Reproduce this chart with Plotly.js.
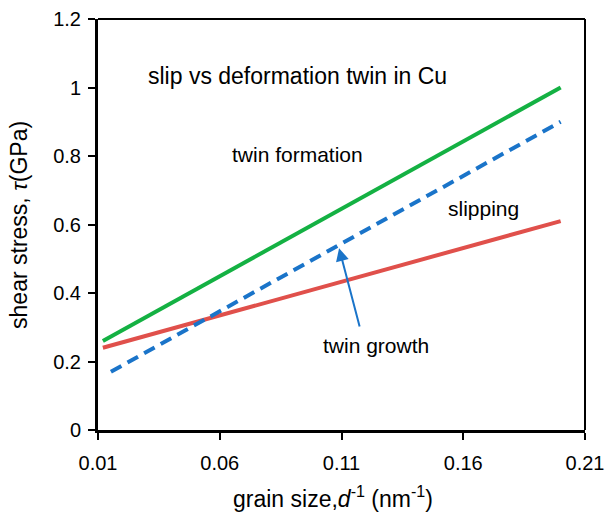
<!DOCTYPE html>
<html><head><meta charset="utf-8">
<script src="https://cdn.plot.ly/plotly-3.0.1.min.js"></script>
<style>html,body{margin:0;padding:0;background:#fff}#c{width:612px;height:515px}</style>
</head><body><div id="c"></div>
<script>
const twinFormationX = [0.012, 0.2];
const twinFormationY = [0.26, 1.0];
const slippingX = [0.012, 0.2];
const slippingY = [0.24, 0.61];
const twinGrowthX = [0.0153, 0.2];
const twinGrowthY = [0.17, 0.90];
const xTicks = [0.01, 0.06, 0.11, 0.16, 0.21];
const yTicks = [0, 0.2, 0.4, 0.6, 0.8, 1, 1.2];

const font = 'Liberation Sans, Arial, sans-serif';
const traces = [
  {x: twinFormationX, y: twinFormationY, mode: 'lines', line: {color: '#14b143', width: 4}},
  {x: slippingX, y: slippingY, mode: 'lines', line: {color: '#e0504b', width: 4}},
  {x: twinGrowthX, y: twinGrowthY, mode: 'lines', line: {color: '#1a74c9', width: 4, dash: '12px,7px'}}
];
const layout = {
  width: 612, height: 515,
  margin: {l: 98, r: 27, t: 19, b: 85},
  paper_bgcolor: '#fff', plot_bgcolor: '#fff',
  showlegend: false,
  font: {family: font, color: '#000', size: 20},
  xaxis: {
    range: [0.01, 0.21], tickvals: xTicks, ticktext: xTicks.map(String),
    showgrid: false, zeroline: false, showline: true, linewidth: 3, linecolor: '#000',
    ticks: 'outside', ticklen: 7, tickwidth: 2, tickcolor: '#000', ticklabelstandoff: 6,
    tickfont: {size: 20, family: font}
  },
  yaxis: {
    range: [0, 1.2], tickvals: yTicks, ticktext: yTicks.map(String),
    showgrid: false, zeroline: false, showline: true, linewidth: 3, linecolor: '#000',
    ticks: 'outside', ticklen: 7, tickwidth: 2, tickcolor: '#000', ticklabelstandoff: 3,
    tickfont: {size: 20, family: font}
  },
  shapes: [
    {type: 'line', xref: 'paper', yref: 'paper', x0: 0, x1: 1, y0: 1, y1: 1, line: {color: '#000', width: 2}},
    {type: 'line', xref: 'paper', yref: 'paper', x0: 1, x1: 1, y0: 0, y1: 1, line: {color: '#000', width: 2}}
  ],
  annotations: [
    {x: 0.4825, y: -0.2044, xref: 'paper', yref: 'paper', yanchor: 'bottom', text: 'grain size,<i>d</i><sup>-1</sup> (nm<sup>-1</sup>)', showarrow: false, font: {size: 23, family: font}},
    {x: -0.193, y: 0.499, xref: 'paper', yref: 'paper', xanchor: 'left', text: 'shear stress, <i>τ</i>(GPa)', textangle: -90, showarrow: false, font: {size: 23, family: font}},
    {x: 0.0918, y: 1.034, xref: 'x', yref: 'y', text: 'slip vs deformation twin in Cu', showarrow: false, font: {size: 23, family: font}},
    {x: 0.0921, y: 0.803, xref: 'x', yref: 'y', text: 'twin formation', showarrow: false, font: {size: 21, family: font}},
    {x: 0.1685, y: 0.648, xref: 'x', yref: 'y', text: 'slipping', showarrow: false, font: {size: 21, family: font}},
    {x: 0.1242, y: 0.248, xref: 'x', yref: 'y', text: 'twin growth', showarrow: false, font: {size: 21, family: font}},
    {x: 0.109, y: 0.531, xref: 'x', yref: 'y', ax: 0.1176, ay: 0.298, axref: 'x', ayref: 'y', text: '', showarrow: true,
     arrowhead: 2, arrowsize: 1.3, arrowwidth: 2, arrowcolor: '#1a74c9', standoff: 0}
  ]
};
Plotly.newPlot('c', traces, layout, {displayModeBar: false, staticPlot: true});
</script></body></html>
